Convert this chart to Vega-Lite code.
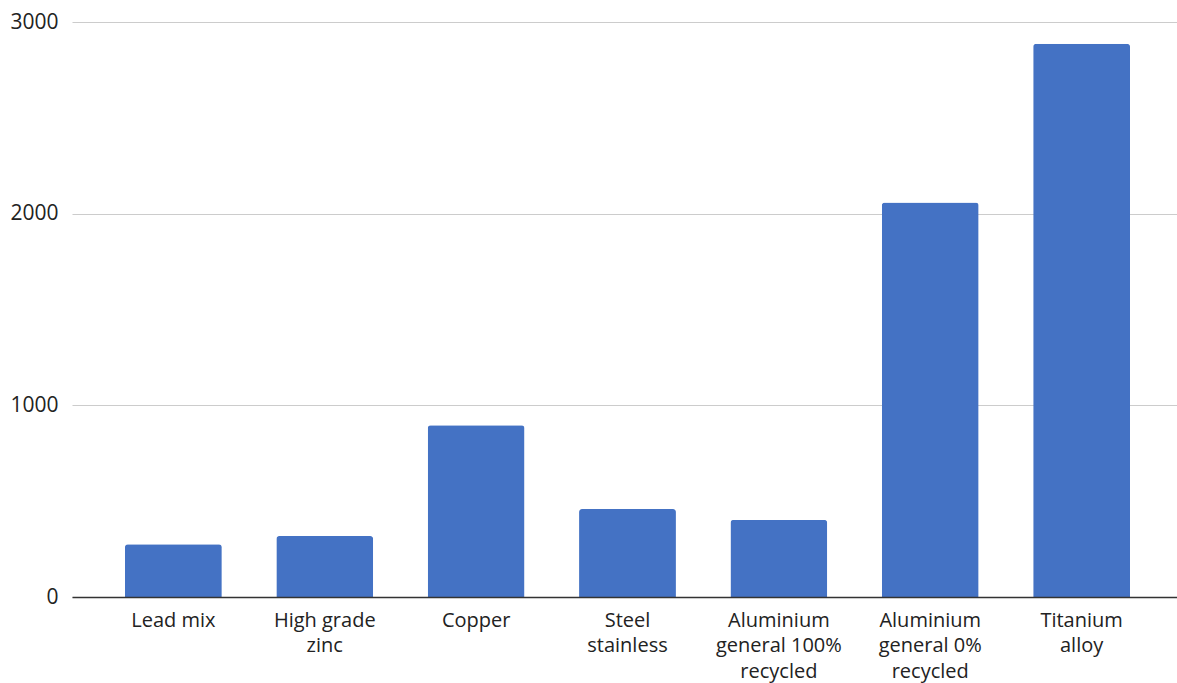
{
  "$schema": "https://vega.github.io/schema/vega-lite/v6.json",
  "autosize": {"type": "none"},
  "width": 1105,
  "height": 575,
  "padding": {"left": 72, "top": 22, "right": 0, "bottom": 86},
  "background": "white",
  "config": {
    "view": {"stroke": null},
    "font": "Open Sans"
  },
  "data": {
    "values": [
      {"material": "Lead mix", "value": 275},
      {"material": "High grade|zinc", "value": 318},
      {"material": "Copper", "value": 896},
      {"material": "Steel|stainless", "value": 459},
      {"material": "Aluminium|general 100%|recycled", "value": 402},
      {"material": "Aluminium|general 0%|recycled", "value": 2058},
      {"material": "Titanium|alloy", "value": 2886}
    ]
  },
  "mark": {"type": "bar", "color": "#4472C4", "cornerRadiusTopLeft": 3, "cornerRadiusTopRight": 3},
  "encoding": {
    "x": {
      "field": "material",
      "type": "nominal",
      "sort": null,
      "title": null,
      "scale": {"paddingInner": 0.36, "paddingOuter": 0.33, "align": 0.53},
      "axis": {
        "labelAngle": 0,
        "labelExpr": "split(datum.label, '|')",
        "labelFontSize": 20,
        "labelLineHeight": 25.5,
        "labelColor": "#222222",
        "labelPadding": 13,
        "labelBaseline": "top",
        "ticks": false,
        "domainColor": "#333333",
        "domainWidth": 1.5,
        "labelLimit": 300,
        "zindex": 1
      }
    },
    "y": {
      "field": "value",
      "type": "quantitative",
      "title": null,
      "scale": {"domain": [0, 3000]},
      "axis": {
        "values": [0, 1000, 2000, 3000],
        "format": "d",
        "domain": false,
        "ticks": false,
        "labelFontSize": 21,
        "labelColor": "#222222",
        "labelPadding": 14,
        "gridColor": "#cccccc",
        "gridWidth": 1.2
      }
    }
  }
}
